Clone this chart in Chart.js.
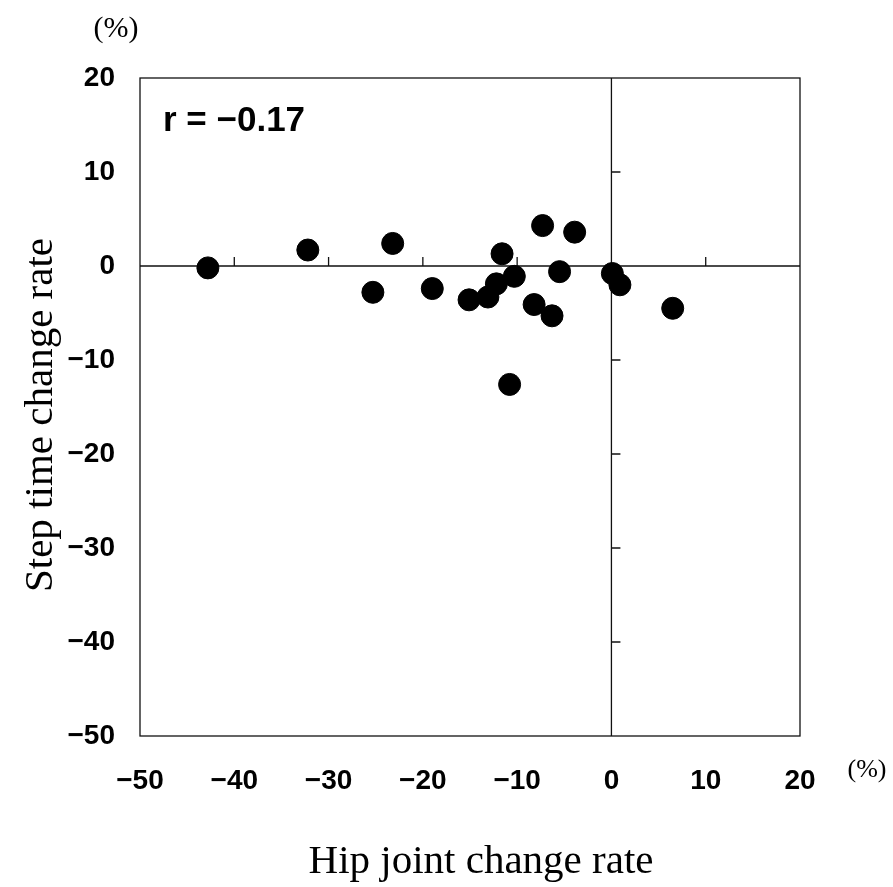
<!DOCTYPE html>
<html>
<head>
<meta charset="utf-8">
<script src="https://cdn.jsdelivr.net/npm/chart.js@4"></script>
<style>
  html, body { margin: 0; padding: 0; background: #fff; }
  #wrap { width: 893px; height: 887px; }
</style>
</head>
<body>
<div id="wrap"><canvas id="myChart"></canvas></div>
<script>
// data
let hipChange  = [-42.8, -32.2, -23.2, -25.3, -19.0, -15.1, -13.1, -12.2, -11.6, -10.3, -7.3, -3.9, -5.5, -8.2, -6.3, -10.8, 0.1, 0.9, 6.5];
let stepChange = [-0.2, 1.7, 2.4, -2.8, -2.4, -3.6, -3.3, -1.9, 1.3, -1.1, 4.3, 3.6, -0.6, -4.1, -5.3, -12.6, -0.8, -2.0, -4.5];
let xTicks = [-50, -40, -30, -20, -10, 0, 10, 20];
let yTicks = [20, 10, 0, -10, -20, -30, -40, -50];
let rText = 'r = \u22120.17';

let points = hipChange.map((x, i) => ({x: x, y: stepChange[i]}));

function minusLabel(v){
    return v < 0 ? '\u2212' + Math.abs(v) : String(v);
}

// frame, zero lines with their small ticks, and the extra texts
let decorations = {
    id: 'decorations',
    beforeDatasetsDraw(chart){
        let c = chart.ctx, a = chart.chartArea;
        let xs = chart.scales.x, ys = chart.scales.y;
        c.save();
        c.strokeStyle = '#111';
        c.lineWidth = 1.3;
        c.strokeRect(a.left, a.top, a.right - a.left, a.bottom - a.top);
        let x0 = xs.getPixelForValue(0), y0 = ys.getPixelForValue(0);
        c.beginPath();
        c.moveTo(a.left, y0); c.lineTo(a.right, y0);
        c.moveTo(x0, a.top); c.lineTo(x0, a.bottom);
        xTicks.forEach(t => {
            if (t === 0 || t === xTicks[0] || t === xTicks[xTicks.length-1]) return;
            let px = xs.getPixelForValue(t);
            c.moveTo(px, y0); c.lineTo(px, y0 - 9);
        });
        yTicks.forEach(t => {
            if (t === 0 || t === yTicks[0] || t === yTicks[yTicks.length-1]) return;
            let py = ys.getPixelForValue(t);
            c.moveTo(x0, py); c.lineTo(x0 + 9, py);
        });
        c.stroke();
        c.restore();
    },
    afterDraw(chart){
        let c = chart.ctx;
        c.save();
        c.fillStyle = '#000';
        c.textAlign = 'center';
        c.textBaseline = 'middle';
        c.font = '30px "Liberation Serif"';
        c.fillText('(%)', 116, 29);
        c.font = '26px "Liberation Serif"';
        c.fillText('(%)', 867, 770);
        c.font = '41px "Liberation Serif"';
        c.textBaseline = 'alphabetic';
        c.fillText('Hip joint change rate', 481, 873);
        c.translate(52, 415);
        c.rotate(-Math.PI/2);
        c.fillText('Step time change rate', 0, 0);
        c.restore();
        c.save();
        c.font = 'bold 35px "Liberation Sans"';
        c.fillStyle = '#000';
        c.textAlign = 'left';
        c.textBaseline = 'alphabetic';
        c.fillText(rText, 163, 131);
        c.restore();
    }
};

let myChart = document.getElementById('myChart').getContext('2d');
let scatterChart = new Chart(myChart, {
type: 'scatter',
data:{
    datasets:[{
        label: 'Step time vs hip joint',
        data: points,
        backgroundColor: '#000',
        borderColor: '#000',
        pointRadius: 11,
        pointHoverRadius: 11
    }]
},
options:{
    responsive: true,
    maintainAspectRatio: false,
    animation: false,
    layout:{
        padding:{ top: 78, right: 93, left: 0, bottom: 0 }
    },
    plugins:{
        legend:{ display: false },
        tooltip:{ enabled: false }
    },
    scales:{
        x:{
            type: 'linear',
            min: -50, max: 20,
            afterBuildTicks: s => { s.ticks = xTicks.map(v => ({value: v})); },
            afterFit: s => { s.height = 151; },
            grid:{ display: false, drawTicks: false },
            border:{ display: false },
            ticks:{
                color: '#000',
                padding: 28,
                maxRotation: 0,
                font:{ family: 'Liberation Sans', weight: 'bold', size: 28 },
                callback: v => minusLabel(v)
            }
        },
        y:{
            type: 'linear',
            min: -50, max: 20,
            afterBuildTicks: s => { s.ticks = yTicks.map(v => ({value: v})); },
            afterFit: s => { s.width = 140; },
            grid:{ display: false, drawTicks: false },
            border:{ display: false },
            ticks:{
                color: '#000',
                padding: 25,
                font:{ family: 'Liberation Sans', weight: 'bold', size: 28 },
                callback: v => minusLabel(v)
            }
        }
    }
},
plugins: [decorations]
});
</script>
</body>
</html>
